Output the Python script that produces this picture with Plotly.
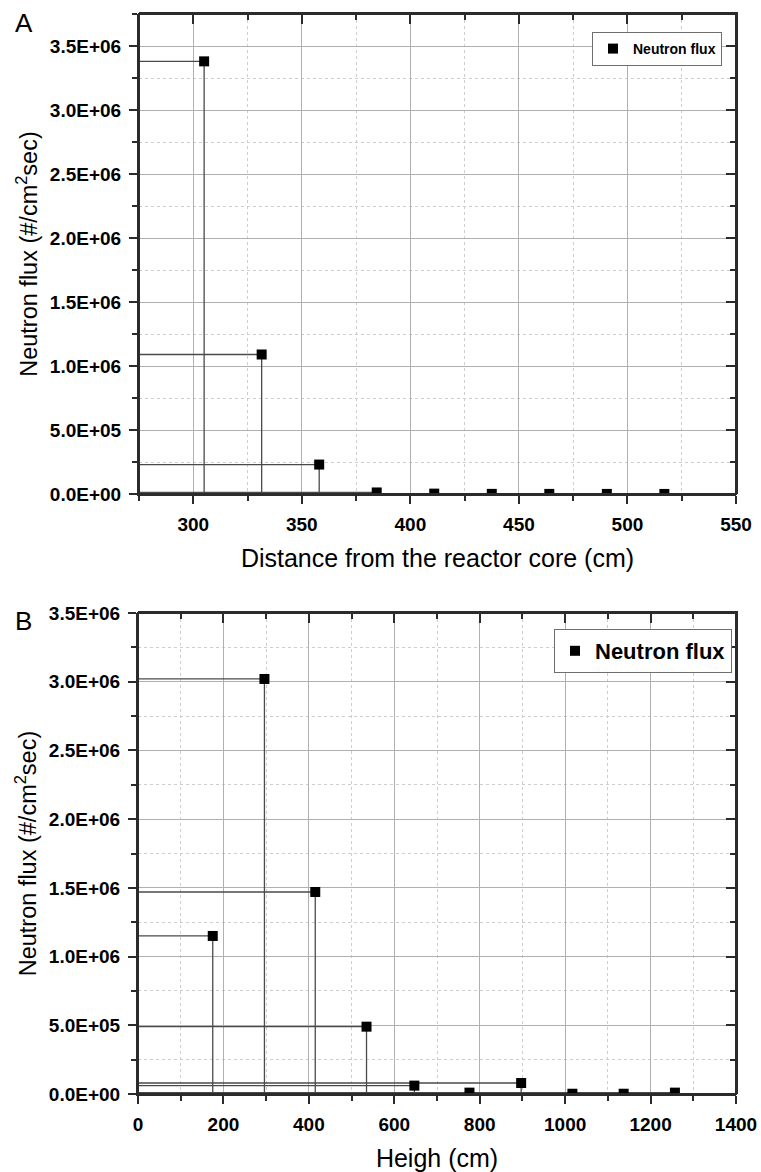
import plotly.graph_objects as go

# ---- data -------------------------------------------------------------
# A: neutron flux versus distance from the reactor core
dist_cm = [305, 331.5, 358, 384.5, 411, 437.5, 464, 490.5, 517]
flux_dist = [3.38e6, 1.09e6, 2.3e5, 1.2e4, 3.0e3, 1.0e3, 8.0e2, 6.0e2, 5.0e2]

# B: neutron flux versus height
height_cm = [175, 296, 415, 535, 647, 776, 897, 1017, 1137, 1257]
flux_height = [1.15e6, 3.02e6, 1.47e6, 4.9e5, 6.1e4, 1.0e4, 8.0e4, 2.0e3, 2.0e3, 1.0e4]

# axis tick labels
dist_ticks = [300, 350, 400, 450, 500, 550]
height_ticks = [0, 200, 400, 600, 800, 1000, 1200, 1400]
flux_ticks = [0, 5e5, 1e6, 1.5e6, 2e6, 2.5e6, 3e6, 3.5e6]
flux_tick_text = ["0.0E+00", "5.0E+05", "1.0E+06", "1.5E+06",
                  "2.0E+06", "2.5E+06", "3.0E+06", "3.5E+06"]
flux_minor_ticks = [2.5e5, 7.5e5, 1.25e6, 1.75e6, 2.25e6, 2.75e6, 3.25e6, 3.75e6]

# ---- styling ------------------------------------------------------------
W, H = 761, 1172
FONT = "Liberation Sans, Arial, sans-serif"
AXIS_COL = "#2b2b2b"
DROP_COL = "#4a4a4a"
tick_font = dict(family=FONT, size=19, color="black")
x_title_font = dict(family=FONT, size=25, color="black")
y_title_font = dict(family=FONT, size=23.5, color="black")


def bold(labels):
    return [f"<b>{t}</b>" for t in labels]


def px_x(p):
    return p / W


def px_y(p):
    return 1 - p / H


def drop_lines(xs, ys, x_start):
    """Origin-style drop lines: to the left axis and down to the baseline."""
    lx, ly = [], []
    for x, y in zip(xs, ys):
        lx += [x_start, x, None, x, x, None]
        ly += [y, y, None, y, 0, None]
    return lx, ly


def base_axis(**kw):
    d = dict(
        showline=True, linecolor=AXIS_COL, linewidth=2,
        ticks="outside", ticklen=8, tickwidth=2, tickcolor=AXIS_COL,
        showgrid=True, gridcolor="#b0b0b0", gridwidth=1.2,
        zeroline=False, tickfont=tick_font, ticklabelstandoff=4,
        automargin=False,
    )
    d.update(kw)
    return d


def minor_style(**kw):
    d = dict(ticks="outside", ticklen=5, tickwidth=1.5, tickcolor=AXIS_COL,
             showgrid=True, gridcolor="#cdcdcd", griddash="dot", gridwidth=1)
    d.update(kw)
    return d


def mirror_axis(**kw):
    d = dict(
        showline=True, linecolor=AXIS_COL, linewidth=2,
        ticks="inside", ticklen=10, tickwidth=2, tickcolor=AXIS_COL,
        showticklabels=False, showgrid=False, zeroline=False,
        automargin=False,
    )
    d.update(kw)
    return d


def mirror_minor(**kw):
    d = dict(ticks="inside", ticklen=6, tickwidth=1.5, tickcolor=AXIS_COL,
             showgrid=False)
    d.update(kw)
    return d


def frame(xref, yref):
    """Closed box around a plot area."""
    return dict(type="rect", xref=f"{xref} domain", yref=f"{yref} domain",
                x0=0, x1=1, y0=0, y1=1, layer="above",
                line=dict(color=AXIS_COL, width=2), fillcolor="rgba(0,0,0,0)")


fig = go.Figure()

# ---- panel A ----------------------------------------------------------
xa_range = [275, 550]
ya_range = [0, 3.75e6]
lx, ly = drop_lines(dist_cm, flux_dist, xa_range[0])
fig.add_trace(go.Scatter(x=lx, y=ly, mode="lines", xaxis="x", yaxis="y",
                         line=dict(color=DROP_COL, width=1.3),
                         showlegend=False, hoverinfo="skip"))
fig.add_trace(go.Scatter(x=dist_cm, y=flux_dist, mode="markers", name="Neutron flux",
                         xaxis="x", yaxis="y", legend="legend",
                         marker=dict(symbol="square", size=10, color="black")))

# ---- panel B ----------------------------------------------------------
xb_range = [0, 1400]
yb_range = [0, 3.5e6]
lx, ly = drop_lines(height_cm, flux_height, xb_range[0])
fig.add_trace(go.Scatter(x=lx, y=ly, mode="lines", xaxis="x2", yaxis="y2",
                         line=dict(color=DROP_COL, width=1.3),
                         showlegend=False, hoverinfo="skip"))
fig.add_trace(go.Scatter(x=height_cm, y=flux_height, mode="markers", name="Neutron flux",
                         xaxis="x2", yaxis="y2", legend="legend2",
                         marker=dict(symbol="square", size=10, color="black")))

# transparent copies on the top / right tick axes
fig.add_trace(go.Scatter(x=dist_cm, y=flux_dist, xaxis="x3", yaxis="y3", mode="markers",
                         marker=dict(opacity=0), showlegend=False, hoverinfo="skip"))
fig.add_trace(go.Scatter(x=height_cm, y=flux_height, xaxis="x4", yaxis="y4", mode="markers",
                         marker=dict(opacity=0), showlegend=False, hoverinfo="skip"))

dom_xa = [px_x(139), px_x(736)]
dom_ya = [px_y(494), px_y(14)]
dom_xb = [px_x(138), px_x(736)]
dom_yb = [px_y(1094), px_y(613)]

y_title = "Neutron flux (#/cm<sup>2</sup>sec)"

fig.update_layout(
    width=W, height=H,
    margin=dict(l=0, r=0, t=0, b=0, autoexpand=False),
    paper_bgcolor="white", plot_bgcolor="rgba(0,0,0,0)",
    font=dict(family=FONT, color="black"),
    # panel A axes
    xaxis=base_axis(domain=dom_xa, anchor="y", range=xa_range,
                    tickmode="array", tickvals=dist_ticks,
                    ticktext=bold([str(v) for v in dist_ticks]),
                    minor=minor_style(tickmode="linear", tick0=275, dtick=25),
                    title=dict(text="Distance from the reactor core (cm)",
                               font=x_title_font, standoff=16)),
    yaxis=base_axis(domain=dom_ya, anchor="x", range=ya_range,
                    tickmode="array", tickvals=flux_ticks, ticktext=bold(flux_tick_text),
                    minor=minor_style(tickmode="array", tickvals=flux_minor_ticks),
                    title=dict(text=y_title, font=y_title_font, standoff=6)),
    # top / right ticks of panel A: a second axis pair over the same area
    xaxis3=mirror_axis(domain=dom_xa, anchor="y3", side="top", range=xa_range,
                       tickmode="array", tickvals=dist_ticks,
                       minor=mirror_minor(tickmode="linear", tick0=275, dtick=25)),
    yaxis3=mirror_axis(domain=dom_ya, anchor="x3", side="right", range=ya_range,
                       tickmode="array", tickvals=flux_ticks,
                       minor=mirror_minor(tickmode="array", tickvals=flux_minor_ticks)),
    # panel B axes
    xaxis2=base_axis(domain=dom_xb, anchor="y2", range=xb_range,
                     tickmode="array", tickvals=height_ticks,
                     ticktext=bold([str(v) for v in height_ticks]),
                     minor=minor_style(tickmode="linear", tick0=0, dtick=100),
                     title=dict(text="Heigh (cm)", font=x_title_font, standoff=16)),
    yaxis2=base_axis(domain=dom_yb, anchor="x2", range=yb_range,
                     tickmode="array", tickvals=flux_ticks, ticktext=bold(flux_tick_text),
                     minor=minor_style(tickmode="array", tickvals=flux_minor_ticks),
                     title=dict(text=y_title, font=y_title_font, standoff=6)),
    xaxis4=mirror_axis(domain=dom_xb, anchor="y4", side="top", range=xb_range,
                       tickmode="array", tickvals=height_ticks,
                       minor=mirror_minor(tickmode="linear", tick0=0, dtick=100)),
    yaxis4=mirror_axis(domain=dom_yb, anchor="x4", side="right", range=yb_range,
                       tickmode="array", tickvals=flux_ticks,
                       minor=mirror_minor(tickmode="array", tickvals=flux_minor_ticks)),
    shapes=[frame("x", "y"), frame("x2", "y2")],
    legend=dict(x=px_x(722), xanchor="right", y=px_y(32), yanchor="top",
                bordercolor="#6e6e6e", borderwidth=1, bgcolor="white",
                font=dict(family=FONT, size=14, color="black", weight="bold")),
    legend2=dict(x=px_x(732), xanchor="right", y=px_y(629), yanchor="top",
                 bordercolor="#6e6e6e", borderwidth=1, bgcolor="white",
                 font=dict(family=FONT, size=22, color="black", weight="bold")),
    annotations=[
        dict(text="A", x=px_x(24), y=px_y(23), xref="paper", yref="paper",
             xanchor="center", yanchor="middle",
             showarrow=False, font=dict(family=FONT, size=26, color="black")),
        dict(text="B", x=px_x(24), y=px_y(621), xref="paper", yref="paper",
             xanchor="center", yanchor="middle",
             showarrow=False, font=dict(family=FONT, size=26, color="black")),
    ],
)

fig.write_html("out.html")
